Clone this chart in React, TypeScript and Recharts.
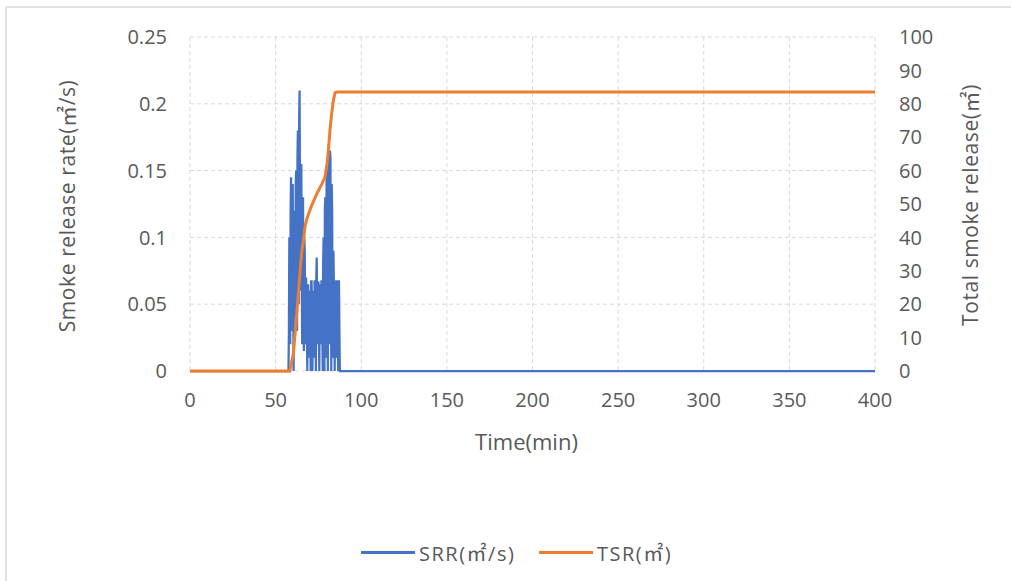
import React from "react";
import {
  LineChart,
  Line,
  XAxis,
  YAxis,
  CartesianGrid,
  Legend,
} from "recharts";

// ---- data ----
const srrTimes = [
  0, 57.5, 57.75,
  58, 58.25, 58.5, 58.75, 59, 59.25, 59.5, 59.75, 60, 60.25, 60.5, 60.75,
  61, 61.25, 61.5, 61.75, 62, 62.25, 62.5, 62.75, 63, 63.25, 63.5, 63.75,
  64, 64.25, 64.5, 64.75, 65, 65.25, 65.5, 65.75, 66, 66.25, 66.5, 66.75,
  67, 67.25, 67.5, 67.75, 68, 68.25, 68.5, 68.75, 69, 69.25, 69.5, 69.75,
  70, 70.25, 70.5, 70.75, 71, 71.25, 71.5, 71.75, 72, 72.25, 72.5, 72.75,
  73, 73.25, 73.5, 73.75, 74, 74.25, 74.5, 74.75, 75, 75.25, 75.5, 75.75,
  76, 76.25, 76.5, 76.75, 77, 77.25, 77.5, 77.75, 78, 78.25, 78.5, 78.75,
  79, 79.25, 79.5, 79.75, 80, 80.25, 80.5, 80.75, 81, 81.25, 81.5, 81.75,
  82, 82.25, 82.5, 82.75, 83, 83.25, 83.5, 83.75, 84, 84.25, 84.5, 84.75,
  85, 85.25, 85.5, 85.75, 86, 86.25, 86.5, 86.75, 87, 87.25, 87.5, 400,
];
const srrValues = [
  0, 0, 0.03,
  0.1, 0.06, 0.02, 0.12, 0.145, 0.08, 0.03, 0.13, 0.14, 0.05, 0.0, 0.1,
  0.12, 0.07, 0.04, 0.14, 0.15, 0.09, 0.03, 0.16, 0.18, 0.1, 0.05, 0.19,
  0.21, 0.12, 0.06, 0.14, 0.155, 0.07, 0.02, 0.11, 0.13, 0.06, 0.015, 0.1,
  0.09, 0.05, 0.02, 0.07, 0.06, 0.03, 0.0, 0.05, 0.065, 0.03, 0.01, 0.06,
  0.05, 0.02, 0.0, 0.067, 0.067, 0.03, 0.0, 0.05, 0.06, 0.03, 0.01, 0.067,
  0.067, 0.04, 0.0, 0.07, 0.085, 0.05, 0.02, 0.06, 0.067, 0.03, 0.0, 0.05,
  0.065, 0.04, 0.02, 0.067, 0.067, 0.03, 0.0, 0.08, 0.1, 0.05, 0.0, 0.12,
  0.13, 0.06, 0.01, 0.14, 0.15, 0.07, 0.0, 0.16, 0.17, 0.09, 0.02, 0.165,
  0.16, 0.08, 0.0, 0.14, 0.12, 0.05, 0.01, 0.09, 0.067, 0.03, 0.0, 0.067,
  0.067, 0.04, 0.01, 0.067, 0.067, 0.03, 0.0, 0.067, 0.067, 0.03, 0, 0,
];
const tsrTimes = [
  0, 58.3, 60.4, 62.3, 64, 65.1, 66.2, 67.2, 68.5, 71, 74, 77, 78.8, 80, 81, 81.7, 82.7,
  83.7, 84.7, 85.6, 400,
];
const tsrValues = [
  0, 0, 5.4, 17, 28, 35, 39, 43.5, 46, 49.5, 53, 56, 58, 62, 67, 72, 77, 81, 83.3, 83.5,
  83.5,
];
const xTicks = [0, 50, 100, 150, 200, 250, 300, 350, 400];
const leftTicks = [0, 0.05, 0.1, 0.15, 0.2, 0.25];
const rightTicks = [0, 10, 20, 30, 40, 50, 60, 70, 80, 90, 100];
const seriesNames = ["SRR(㎡/s)", "TSR(㎡)"];
const axisTitles = ["Time(min)", "Smoke release rate(㎡/s)", "Total smoke release(㎡)"];

const srrData = srrTimes.map((t, i) => ({ t, srr: srrValues[i] }));
const tsrData = tsrTimes.map((t, i) => ({ t, tsr: tsrValues[i] }));

const BLUE = "#4472C4";
const ORANGE = "#ED7D31";
const TEXT = "#595959";
const GRID = "#d9d9d9";
const FONT = "'Open Sans', 'Noto Sans CJK SC', sans-serif";

const tickStyle = { fill: TEXT, fontSize: 20, fontFamily: FONT };

const LeftTitle = (props: any) => {
  const vb = props.viewBox;
  const cx = vb.x + 67;
  const cy = vb.y + vb.height / 2 + 2;
  return (
    <text
      x={cx}
      y={cy}
      transform={`rotate(-90, ${cx}, ${cy})`}
      textAnchor="middle"
      dominantBaseline="central"
      fill={TEXT}
      fontSize={21}
      letterSpacing={0.6}
      fontFamily={FONT}
    >
      {axisTitles[1]}
    </text>
  );
};

const RightTitle = (props: any) => {
  const vb = props.viewBox;
  const cx = vb.x + 95;
  const cy = vb.y + vb.height / 2 + 1;
  return (
    <text
      x={cx}
      y={cy}
      transform={`rotate(-90, ${cx}, ${cy})`}
      textAnchor="middle"
      dominantBaseline="central"
      fill={TEXT}
      fontSize={21}
      letterSpacing={0.6}
      fontFamily={FONT}
    >
      {axisTitles[2]}
    </text>
  );
};

const BottomTitle = (props: any) => {
  const vb = props.viewBox;
  const cx = vb.x + vb.width / 2 - 6;
  const cy = vb.y + 70;
  return (
    <text
      x={cx}
      y={cy}
      textAnchor="middle"
      dominantBaseline="central"
      fill={TEXT}
      fontSize={22}
      fontFamily={FONT}
    >
      {axisTitles[0]}
    </text>
  );
};

const LegendContent = () => {
  const items = [
    { name: seriesNames[0], color: BLUE, w: 120 },
    { name: seriesNames[1], color: ORANGE, w: 100 },
  ];
  return (
    <div
      style={{
        width: 1011,
        height: 30,
        display: "flex",
        justifyContent: "flex-start",
        alignItems: "center",
        paddingLeft: 361,
        boxSizing: "border-box",
      }}
    >
      {items.map((it) => (
        <div key={it.name} style={{ display: "flex", alignItems: "center" }}>
          <div style={{ width: 54, height: 3, background: it.color, marginRight: 4 }} />
          <span
            style={{
              color: TEXT,
              fontSize: 20,
              fontFamily: FONT,
              letterSpacing: 1.5,
              width: it.w,
              whiteSpace: "nowrap",
            }}
          >
            {it.name}
          </span>
        </div>
      ))}
    </div>
  );
};

export default function App() {
  return (
    <div
      style={{
        position: "absolute",
        left: 0,
        top: 0,
        width: 1011,
        height: 581,
        background: "#fff",
        overflow: "hidden",
      }}
    >
      <div
        style={{
          position: "absolute",
          left: 5,
          top: 6,
          right: 0,
          bottom: 0,
          borderTop: "2px solid #e2e2e2",
          borderLeft: "2px solid #e2e2e2",
        }}
      />
      <LineChart
        width={1011}
        height={581}
        margin={{ top: 37, right: 0, bottom: 0, left: 0 }}
        style={{ position: "absolute", left: 0, top: 0 }}
      >
        <CartesianGrid stroke={GRID} strokeDasharray="4 3" />
        <XAxis
          dataKey="t"
          type="number"
          domain={[0, 400]}
          ticks={xTicks}
          allowDuplicatedCategory={false}
          height={180}
          tickSize={0}
          tickMargin={22}
          axisLine={false}
          tick={tickStyle}
          interval={0}
          label={<BottomTitle />}
        />
        <YAxis
          yAxisId={0}
          domain={[0, 0.25]}
          ticks={leftTicks}
          width={190}
          tickSize={0}
          tickMargin={23}
          axisLine={false}
          tick={tickStyle}
          interval={0}
          label={<LeftTitle />}
        />
        <YAxis
          yAxisId="right"
          orientation="right"
          domain={[0, 100]}
          ticks={rightTicks}
          width={136}
          tickSize={0}
          tickMargin={24}
          axisLine={false}
          tick={tickStyle}
          interval={0}
          label={<RightTitle />}
        />
        <Legend
          verticalAlign="bottom"
          content={<LegendContent />}
          wrapperStyle={{ bottom: 14, left: 0, width: 1011 }}
        />
        <Line
          data={srrData}
          dataKey="srr"
          name={seriesNames[0]}
          yAxisId={0}
          stroke={BLUE}
          strokeWidth={2.25}
          dot={false}
          type="linear"
          isAnimationActive={false}
        />
        <Line
          data={tsrData}
          dataKey="tsr"
          name={seriesNames[1]}
          yAxisId="right"
          stroke={ORANGE}
          strokeWidth={3}
          dot={false}
          type="linear"
          isAnimationActive={false}
        />
      </LineChart>
    </div>
  );
}
